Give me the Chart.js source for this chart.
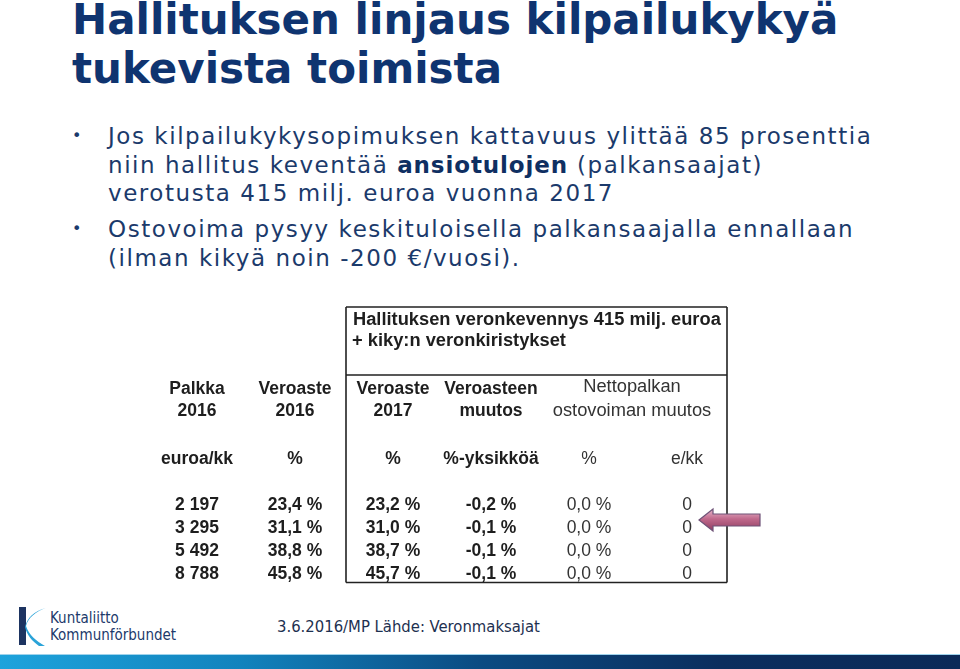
<!DOCTYPE html>
<html lang="fi">
<head>
<meta charset="utf-8">
<script src="https://cdn.jsdelivr.net/npm/chart.js@4.4.1/dist/chart.umd.min.js"></script>
<style>
  html, body { margin: 0; padding: 0; background: #fff; }
  body { width: 960px; height: 669px; position: relative; overflow: hidden; font-family: "DejaVu Sans", Verdana, sans-serif; }
  .otsikko { position: absolute; left: 72px; top: -5px; font-size: 42px; font-weight: bold; color: #0f3470; line-height: 49px; white-space: nowrap; }
  .luettelo { position: absolute; left: 108px; font-size: 23px; letter-spacing: 1.55px; color: #1b3a6b; line-height: 28.5px; white-space: nowrap; }
  .luettelo::before { content: "•"; position: absolute; left: -36px; top: 0; font-size: 16px; }
  .luettelo b { color: #0f2f62; letter-spacing: 0.9px; }
  #taulukko { position: absolute; left: 140px; top: 295px; }
  .logo { position: absolute; left: 16px; top: 605px; }
  .logoteksti { position: absolute; left: 50px; top: 610px; font-size: 15px; line-height: 17px; color: #1d3a6b; font-family: "DejaVu Sans Condensed", "DejaVu Sans", sans-serif; }
  .lahde { position: absolute; left: 277px; top: 617px; font-size: 16.5px; color: #1d3050; font-family: "DejaVu Sans Condensed", "DejaVu Sans", sans-serif; white-space: nowrap; }
  .kaista { position: absolute; left: 0; top: 654px; width: 960px; height: 15px; background: linear-gradient(to right, #1ea3dc 0%, #1283bd 25%, #0b4b82 50%, #0b2e5e 75%, #0b2a58 100%); border-top: 1px solid #9fd3ec; }
</style>
</head>
<body>
<div class="otsikko">Hallituksen linjaus kilpailukykyä<br>tukevista toimista</div>
<div class="luettelo" style="top:122px">Jos kilpailukykysopimuksen kattavuus ylittää 85 prosenttia<br>niin hallitus keventää <b>ansiotulojen</b> (palkansaajat)<br>verotusta 415 milj. euroa vuonna 2017</div>
<div class="luettelo" style="top:215px">Ostovoima pysyy keskituloisella palkansaajalla ennallaan<br>(ilman kikyä noin -200 €/vuosi).</div>

<canvas id="taulukko" width="640" height="300"></canvas>

<svg class="logo" width="34" height="44" viewBox="0 0 34 44">
  <rect x="3" y="2" width="7" height="38" fill="#1d3461"/>
  <path d="M30,3 C20,6 12,13 10,21 C13,30 20,36 29,41 L23,41 C16,36 11,30 9,22 C11,13 18,6 30,3 Z" fill="#2aa3d8"/>
</svg>
<div class="logoteksti">Kuntaliitto<br>Kommunförbundet</div>
<div class="lahde">3.6.2016/MP Lähde: Veronmaksajat</div>
<div class="kaista"></div>

<script>
// Taulukon sarakkeet ja rivit
const sarakkeet = ["palkka", "veroaste2016", "veroaste2017", "muutos", "nettoProsentti", "nettoEuro"];
const rivit = ["r1", "r2", "r3", "r4"];

// Arvot kuvasta
const palkka2016 = [2197, 3295, 5492, 8788];
const veroaste2016 = [23.4, 31.1, 38.8, 45.8];
const veroaste2017 = [23.2, 31.0, 38.7, 45.7];
const veroasteenMuutos = [-0.2, -0.1, -0.1, -0.1];
const nettopalkkaProsentti = [0.0, 0.0, 0.0, 0.0];
const nettopalkkaEuro = [0, 0, 0, 0];

// Otsikkotekstit
const laatikonOtsikko = ["Hallituksen veronkevennys 415 milj. euroa", "+ kiky:n veronkiristykset"];
const otsikot1 = ["Palkka", "Veroaste", "Veroaste", "Veroasteen"];
const otsikot2 = ["2016", "2016", "2017", "muutos"];
const yksikot = ["euroa/kk", "%", "%", "%-yksikköä", "%", "e/kk"];
const nettoOtsikko = ["Nettopalkan", "ostovoiman muutos"];

const tuhannet = (v) => String(v).replace(/\B(?=(\d{3})+(?!\d))/g, " ");
const prosentti = (v) => v.toFixed(1).replace(".", ",") + " %";

const sarakeArvot = [
  palkka2016.map(tuhannet),
  veroaste2016.map(prosentti),
  veroaste2017.map(prosentti),
  veroasteenMuutos.map(prosentti),
  nettopalkkaProsentti.map(prosentti),
  nettopalkkaEuro.map(String),
];
const lihavoitu = [true, true, true, true, false, false];

const datasets = sarakkeet.map((s, c) => ({
  label: s,
  data: rivit.map((r) => ({ x: s, y: r })),
  tekstit: sarakeArvot[c],
  pointRadius: 0,
}));

const fontti = (bold, koko) => (bold ? "bold " : "") + (koko || 17.5) + "px 'Liberation Sans', Arial, sans-serif";

// Piirtää taulukon tekstit, viivat ja nuolen
const taulukkoPlugin = {
  id: "taulukko",
  afterDraw(chart) {
    const ctx = chart.ctx;
    const x = chart.scales.x;
    const alue = chart.chartArea;
    ctx.save();
    ctx.textAlign = "center";
    ctx.textBaseline = "middle";

    // solut
    chart.data.datasets.forEach((ds, c) => {
      ctx.font = fontti(lihavoitu[c]);
      ctx.fillStyle = lihavoitu[c] ? "#1e1e1e" : "#333";
      chart.getDatasetMeta(c).data.forEach((el, i) => {
        ctx.fillText(ds.tekstit[i], el.x, el.y);
      });
    });

    // otsikot
    ctx.fillStyle = "#1e1e1e";
    ctx.font = fontti(true);
    otsikot1.forEach((t, c) => {
      ctx.fillText(t, x.getPixelForValue(c), 94);
      ctx.fillText(otsikot2[c], x.getPixelForValue(c), 116);
    });
    yksikot.forEach((t, c) => {
      ctx.font = fontti(c < 4);
      ctx.fillStyle = c < 4 ? "#1e1e1e" : "#333";
      ctx.fillText(t, x.getPixelForValue(c), 164);
    });
    ctx.font = fontti(false, 18.3);
    ctx.fillStyle = "#333";
    const nettoX = (x.getPixelForValue(4) + x.getPixelForValue(5)) / 2 - 6;
    ctx.fillText(nettoOtsikko[0], nettoX, 92);
    ctx.fillText(nettoOtsikko[1], nettoX, 116);

    // viivat
    const vasen = (x.getPixelForValue(1) + x.getPixelForValue(2)) / 2 + 2;
    const oikea = x.getPixelForValue(5) + 40;
    const ala = alue.bottom - 3;
    ctx.strokeStyle = "#222";
    ctx.lineWidth = 1.6;
    ctx.beginPath();
    ctx.moveTo(vasen, 12); ctx.lineTo(oikea, 12);
    ctx.moveTo(vasen, 80); ctx.lineTo(oikea, 80);
    ctx.moveTo(vasen, ala); ctx.lineTo(oikea, ala);
    ctx.moveTo(vasen, 12); ctx.lineTo(vasen, ala);
    ctx.moveTo(oikea, 12); ctx.lineTo(oikea, ala);
    ctx.stroke();

    // laatikon otsikko
    ctx.textAlign = "left";
    ctx.font = fontti(true, 18.3);
    ctx.fillStyle = "#1e1e1e";
    ctx.fillText(laatikonOtsikko[0], vasen + 7, 25);
    ctx.fillText(laatikonOtsikko[1], vasen + 6, 46);

    // nuoli toisen rivin kohdalle
    const kohde = chart.getDatasetMeta(5).data[1];
    const kx = kohde.x + 12, ky = kohde.y - 8;
    const grad = ctx.createLinearGradient(0, ky - 11, 0, ky + 11);
    grad.addColorStop(0, "#e8b8cc");
    grad.addColorStop(0.45, "#c0698c");
    grad.addColorStop(1, "#8e3d60");
    ctx.beginPath();
    ctx.moveTo(kx, ky);
    ctx.lineTo(kx + 14, ky - 11);
    ctx.lineTo(kx + 14, ky - 6);
    ctx.lineTo(kx + 61, ky - 6);
    ctx.lineTo(kx + 61, ky + 6);
    ctx.lineTo(kx + 14, ky + 6);
    ctx.lineTo(kx + 14, ky + 11);
    ctx.closePath();
    ctx.fillStyle = grad;
    ctx.fill();
    ctx.strokeStyle = "#6e5277";
    ctx.lineWidth = 1.2;
    ctx.stroke();
    ctx.restore();
  },
};

const config = {
  type: "scatter",
  data: { datasets: datasets },
  options: {
    responsive: false,
    animation: false,
    devicePixelRatio: 1,
    layout: { padding: { left: 8, right: 44, top: 198.5, bottom: 9.5 } },
    plugins: { legend: { display: false }, tooltip: { enabled: false } },
    scales: {
      x: { type: "category", labels: sarakkeet, offset: true, display: false },
      y: { type: "category", labels: rivit, offset: true, display: false },
    },
  },
  plugins: [taulukkoPlugin],
};

const taulukko = new Chart(document.getElementById("taulukko").getContext("2d"), config);
</script>
</body>
</html>
